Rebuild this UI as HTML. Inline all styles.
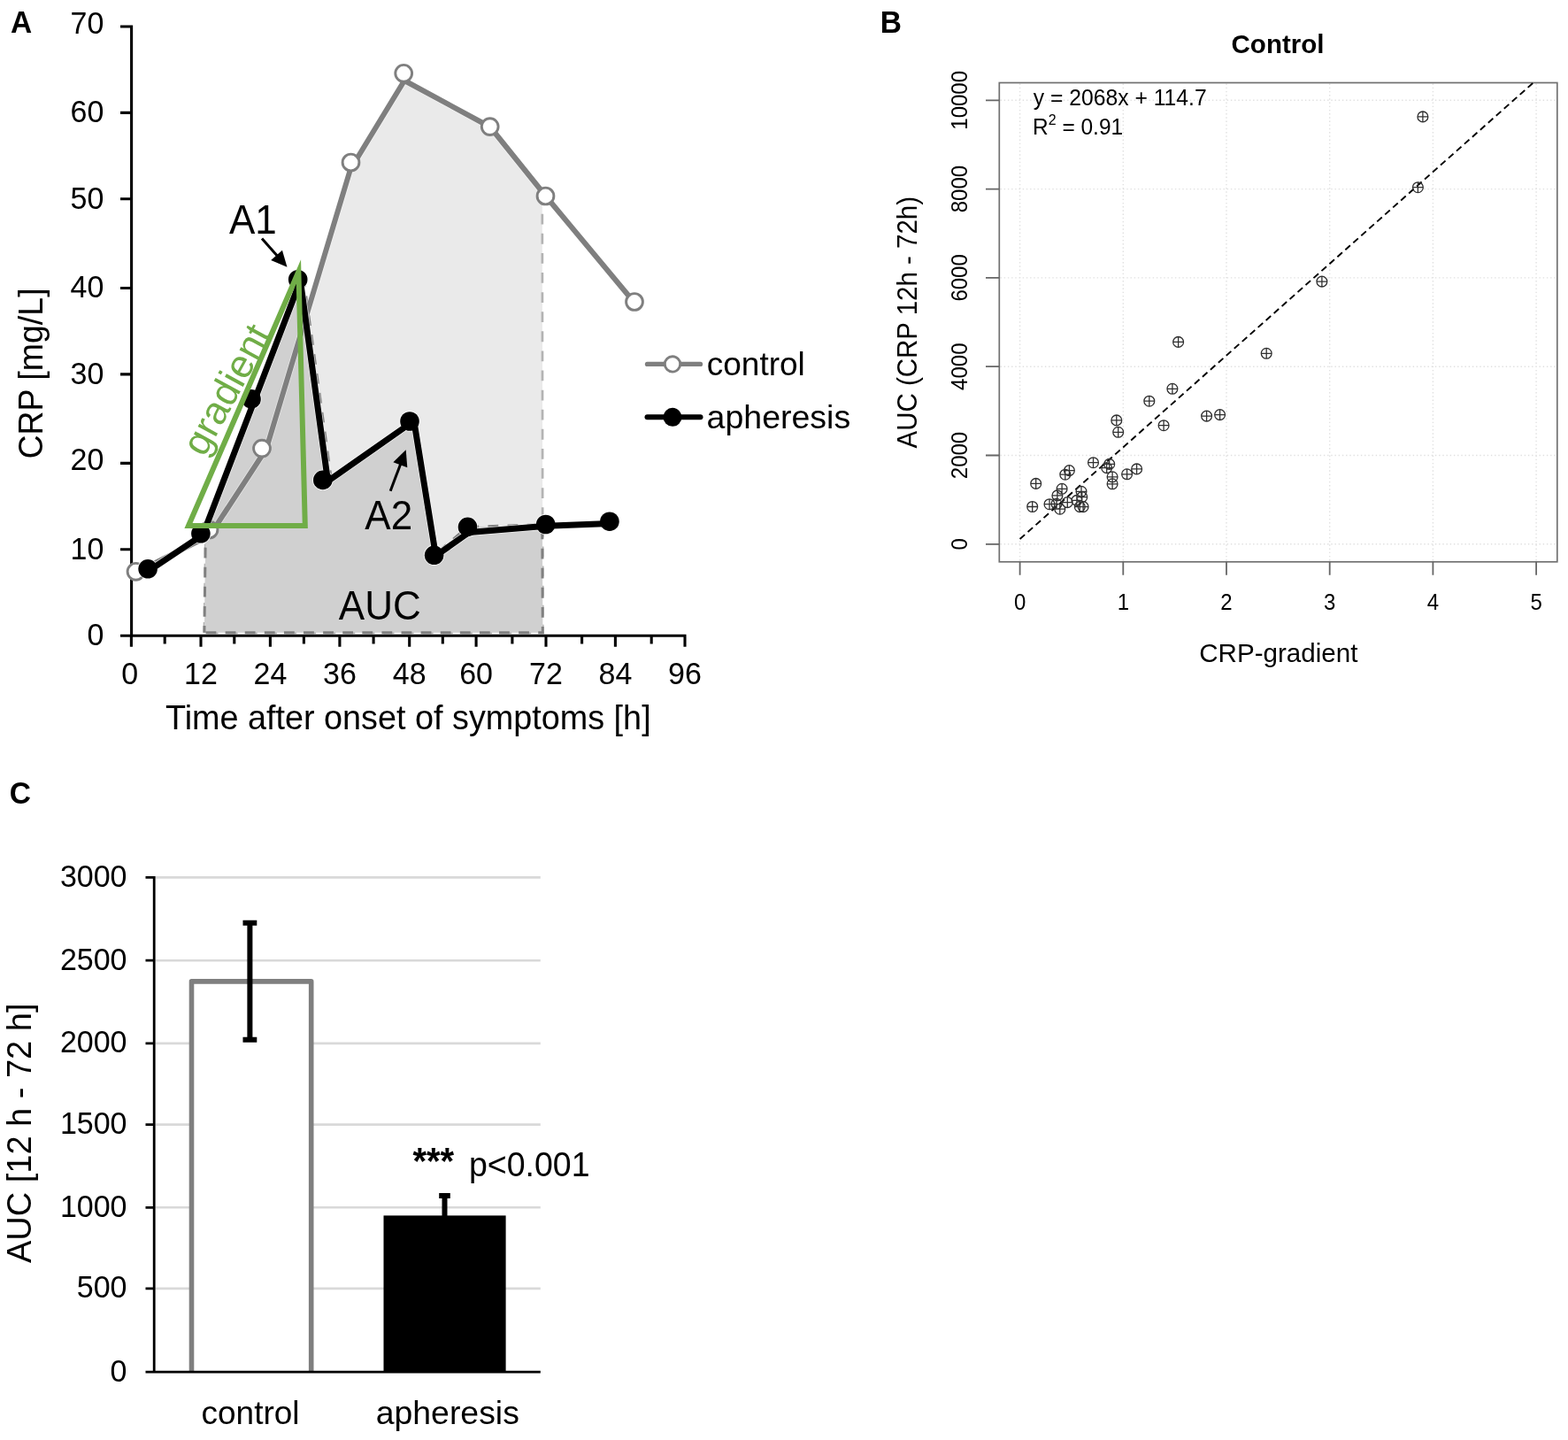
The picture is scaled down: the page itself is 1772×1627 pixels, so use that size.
<!DOCTYPE html>
<html><head><meta charset="utf-8"><title>CRP apheresis figure</title>
<style>
html,body{margin:0;padding:0;background:#fff;}
body{width:1772px;height:1627px;overflow:hidden;}
svg{display:block;}
</style></head><body>
<svg width="1772" height="1627" viewBox="0 0 1772 1627">
<rect width="1772" height="1627" fill="#fff"/>
<g id="panelA">
<polygon points="230.9,714.8 232.4,607.1 237.5,604.5 301,507 395.9,191.5 457,91 554,143.5 612.8,216.65 613.3,714.8" fill="#eaeaea" stroke="#b3b3b3" stroke-width="2.7" stroke-dasharray="11.8,10.3"/>
<polygon points="230.9,714.8 232.4,596.02 339.4,317.2 343.6,318.5 374.6,543.6 467.8,475.5 490.6,627.3 528.5,595.4 612.8,592.63 613.3,714.8" fill="#d0d0d0" stroke="#808080" stroke-width="3" stroke-dasharray="11.8,10.3" stroke-dashoffset="4"/>
<path d="M148.6,28.6 V719.8 M136,718.3 H775.5 M136,718.3 H148.6 M136,620.8 H148.6 M136,523.4 H148.6 M136,422.9 H148.6 M136,325.5 H148.6 M136,224.8 H148.6 M136,127.4 H148.6 M136,30 H148.6 M148.4,718.3 V730.8 M186.2,718.3 V727.5 M227,718.3 V730.8 M264.8,718.3 V727.5 M305.4,718.3 V730.8 M343.4,718.3 V727.5 M383.9,718.3 V730.8 M422.1,718.3 V727.5 M462.7,718.3 V730.8 M500.3,718.3 V727.5 M538.1,718.3 V730.8 M578.9,718.3 V727.5 M617,718.3 V730.8 M657.6,718.3 V727.5 M695.4,718.3 V730.8 M736.2,718.3 V727.5 M774,718.3 V730.8" stroke="#000" stroke-width="3.1" fill="none"/>
<g font-family="'Liberation Sans', Arial, Helvetica, sans-serif">
<text transform="translate(117.3,729.3) scale(1,1.04)" font-size="34" text-anchor="end">0</text>
<text transform="translate(117.3,631.8) scale(1,1.04)" font-size="34" text-anchor="end">10</text>
<text transform="translate(117.3,531.2) scale(1,1.04)" font-size="34" text-anchor="end">20</text>
<text transform="translate(117.3,433.8) scale(1,1.04)" font-size="34" text-anchor="end">30</text>
<text transform="translate(117.3,336.3) scale(1,1.04)" font-size="34" text-anchor="end">40</text>
<text transform="translate(117.3,235.8) scale(1,1.04)" font-size="34" text-anchor="end">50</text>
<text transform="translate(117.3,138.4) scale(1,1.04)" font-size="34" text-anchor="end">60</text>
<text transform="translate(117.3,37.9) scale(1,1.04)" font-size="34" text-anchor="end">70</text>
<text transform="translate(146.8,773.2) scale(1,1.04)" font-size="34" text-anchor="middle">0</text>
<text transform="translate(227,773.2) scale(1,1.04)" font-size="34" text-anchor="middle">12</text>
<text transform="translate(305.4,773.2) scale(1,1.04)" font-size="34" text-anchor="middle">24</text>
<text transform="translate(383.9,773.2) scale(1,1.04)" font-size="34" text-anchor="middle">36</text>
<text transform="translate(462.7,773.2) scale(1,1.04)" font-size="34" text-anchor="middle">48</text>
<text transform="translate(538.1,773.2) scale(1,1.04)" font-size="34" text-anchor="middle">60</text>
<text transform="translate(617,773.2) scale(1,1.04)" font-size="34" text-anchor="middle">72</text>
<text transform="translate(695.4,773.2) scale(1,1.04)" font-size="34" text-anchor="middle">84</text>
<text transform="translate(774,773.2) scale(1,1.04)" font-size="34" text-anchor="middle">96</text>
<text transform="translate(461.3,823.5) scale(1,1.02)" font-size="37.8" text-anchor="middle">Time after onset of symptoms [h]</text>
<text transform="translate(48.2,422) rotate(-90) scale(1,1.04)" font-size="37.5" text-anchor="middle">CRP [mg/L]</text>
<polyline points="154,647 237.5,604.5 301,507 395.9,191.5 457,91 554,143.5 617.5,222.5 717,342" fill="none" stroke="#fff" stroke-opacity="0.45" stroke-width="7.6" stroke-linejoin="round"/>
<polyline points="154,647 237.5,604.5 301,507 395.9,191.5 457,91 554,143.5 617.5,222.5 717,342" fill="none" stroke="#7f7f7f" stroke-width="6" stroke-linejoin="round"/>
<circle cx="153.5" cy="645.8" r="9.4" fill="#fff" stroke="#7f7f7f" stroke-width="2.9"/>
<circle cx="236.5" cy="598.5" r="9.4" fill="#fff" stroke="#7f7f7f" stroke-width="2.9"/>
<circle cx="296" cy="506.6" r="9.4" fill="#fff" stroke="#7f7f7f" stroke-width="2.9"/>
<circle cx="396.5" cy="183.5" r="9.4" fill="#fff" stroke="#7f7f7f" stroke-width="2.9"/>
<circle cx="456.2" cy="82.8" r="9.4" fill="#fff" stroke="#7f7f7f" stroke-width="2.9"/>
<circle cx="553.7" cy="143.1" r="9.4" fill="#fff" stroke="#7f7f7f" stroke-width="2.9"/>
<circle cx="616.5" cy="221.5" r="9.4" fill="#fff" stroke="#7f7f7f" stroke-width="2.9"/>
<circle cx="717" cy="341" r="9.4" fill="#fff" stroke="#7f7f7f" stroke-width="2.9"/>
<polyline points="167.1,645.6 229.3,604.1 339.4,317.2 370.5,543.6 467.8,475.5 492.5,628 530,601.5 617.5,594.2 689,591.6" fill="none" stroke="#fff" stroke-opacity="0.7" stroke-width="8.4" stroke-linejoin="round"/>
<circle cx="167.1" cy="642.8" r="11.7" fill="#fff" fill-opacity="0.8"/>
<circle cx="226.9" cy="602.8" r="11.7" fill="#fff" fill-opacity="0.8"/>
<circle cx="284" cy="450.9" r="11.7" fill="#fff" fill-opacity="0.8"/>
<circle cx="336.7" cy="315.7" r="11.7" fill="#fff" fill-opacity="0.8"/>
<circle cx="364.8" cy="542.4" r="11.7" fill="#fff" fill-opacity="0.8"/>
<circle cx="463" cy="476" r="11.7" fill="#fff" fill-opacity="0.8"/>
<circle cx="490.6" cy="627.3" r="11.7" fill="#fff" fill-opacity="0.8"/>
<circle cx="528.5" cy="595.4" r="11.7" fill="#fff" fill-opacity="0.8"/>
<circle cx="616.7" cy="592.5" r="11.7" fill="#fff" fill-opacity="0.8"/>
<circle cx="688.9" cy="589.2" r="11.7" fill="#fff" fill-opacity="0.8"/>
<polyline points="167.1,645.6 229.3,604.1 339.4,317.2 370.5,543.6 467.8,475.5 492.5,628 530,601.5 617.5,594.2 689,591.6" fill="none" stroke="#000" stroke-width="7" stroke-linejoin="round"/>
<circle cx="167.1" cy="642.8" r="10.8" fill="#000"/>
<circle cx="226.9" cy="602.8" r="10.8" fill="#000"/>
<circle cx="284" cy="450.9" r="10.8" fill="#000"/>
<circle cx="336.7" cy="315.7" r="10.8" fill="#000"/>
<circle cx="364.8" cy="542.4" r="10.8" fill="#000"/>
<circle cx="463" cy="476" r="10.8" fill="#000"/>
<circle cx="490.6" cy="627.3" r="10.8" fill="#000"/>
<circle cx="528.5" cy="595.4" r="10.8" fill="#000"/>
<circle cx="616.7" cy="592.5" r="10.8" fill="#000"/>
<circle cx="688.9" cy="589.2" r="10.8" fill="#000"/>
<path d="M213,594 L337.4,307 L344.8,594 Z" fill="none" stroke="#70ad47" stroke-width="6" stroke-linejoin="miter" stroke-miterlimit="10"/>
<text transform="translate(231,517.5) rotate(-61.5)" font-size="44.3" fill="#70ad47">gradient</text>
<text transform="translate(259,263.9) scale(1,1.04)" font-size="44">A1</text>
<text transform="translate(412.3,598) scale(1,1.04)" font-size="44">A2</text>
<text transform="translate(382.8,700) scale(1,1.04)" font-size="44">AUC</text>
<path d="M296,269.5 L313.91,289.8" stroke="#000" stroke-width="3" fill="none"/><path d="M324.5,301.8 L306.22,293.93 L318.96,282.68 Z" fill="#000"/>
<path d="M441.2,554.7 L453.05,523.27" stroke="#000" stroke-width="3" fill="none"/><path d="M458.7,508.3 L460.3,528.14 L444.39,522.14 Z" fill="#000"/>
<path d="M731.5,411.4 H791.5" stroke="#7f7f7f" stroke-width="5.3" stroke-linecap="round"/>
<circle cx="760" cy="411.4" r="8.7" fill="#fff" stroke="#7f7f7f" stroke-width="2.9"/>
<path d="M731.5,471.3 H791.5" stroke="#000" stroke-width="6" stroke-linecap="round"/>
<circle cx="760" cy="471.3" r="10.5" fill="#000"/>
<text transform="translate(798.8,424.1) scale(1,0.99)" font-size="37">control</text>
<text transform="translate(798.6,483.5) scale(1,0.99)" font-size="37.5">apheresis</text>
<text transform="translate(12.1,36.6) scale(1,1.04)" font-size="33.5" font-weight="bold">A</text>
</g>
</g>
<g id="panelB" font-family="'Liberation Sans', Arial, Helvetica, sans-serif">
<text transform="translate(994.7,37) scale(1,1.04)" font-size="33.5" font-weight="bold">B</text>
<text transform="translate(1444,60.2)" font-size="29.5" text-anchor="middle" font-weight="bold">Control</text>
<path d="M1152.6,94.5 V634 M1269.3,94.5 V634 M1386,94.5 V634 M1502.7,94.5 V634 M1619.4,94.5 V634 M1736.1,94.5 V634 M1130.5,614.8 H1759 M1130.5,514.5 H1759 M1130.5,414.2 H1759 M1130.5,313.9 H1759 M1130.5,213.6 H1759 M1130.5,113.3 H1759" stroke="#e0e0e0" stroke-width="1.4" stroke-dasharray="1.4,2.8" fill="none"/>
<rect x="1129.3" y="93.5" width="630.5" height="541.3" fill="none" stroke="#707070" stroke-width="1.7"/>
<path d="M1114,614.8 H1129.3 M1114,514.5 H1129.3 M1114,414.2 H1129.3 M1114,313.9 H1129.3 M1114,213.6 H1129.3 M1114,113.3 H1129.3 M1152.6,634.8 V649.8 M1269.3,634.8 V649.8 M1386,634.8 V649.8 M1502.7,634.8 V649.8 M1619.4,634.8 V649.8 M1736.1,634.8 V649.8" stroke="#666" stroke-width="1.8" fill="none"/>
<text transform="translate(1093.4,614.8) rotate(-90) scale(1,1.04)" font-size="24" text-anchor="middle">0</text>
<text transform="translate(1093.4,514.5) rotate(-90) scale(1,1.04)" font-size="24" text-anchor="middle">2000</text>
<text transform="translate(1093.4,414.2) rotate(-90) scale(1,1.04)" font-size="24" text-anchor="middle">4000</text>
<text transform="translate(1093.4,313.9) rotate(-90) scale(1,1.04)" font-size="24" text-anchor="middle">6000</text>
<text transform="translate(1093.4,213.6) rotate(-90) scale(1,1.04)" font-size="24" text-anchor="middle">8000</text>
<text transform="translate(1093.4,113.3) rotate(-90) scale(1,1.04)" font-size="24" text-anchor="middle">10000</text>
<text transform="translate(1152.6,689.2) scale(1,1.04)" font-size="24" text-anchor="middle">0</text>
<text transform="translate(1269.3,689.2) scale(1,1.04)" font-size="24" text-anchor="middle">1</text>
<text transform="translate(1386,689.2) scale(1,1.04)" font-size="24" text-anchor="middle">2</text>
<text transform="translate(1502.7,689.2) scale(1,1.04)" font-size="24" text-anchor="middle">3</text>
<text transform="translate(1619.4,689.2) scale(1,1.04)" font-size="24" text-anchor="middle">4</text>
<text transform="translate(1736.1,689.2) scale(1,1.04)" font-size="24" text-anchor="middle">5</text>
<text transform="translate(1167.8,119.2) scale(1,1.04)" font-size="24.7">y = 2068x + 114.7</text>
<text transform="translate(1167,151.5) scale(1,1.04)" font-size="24.5">R<tspan dy="-10" font-size="16">2</tspan><tspan dy="10"> = 0.91</tspan></text>
<text transform="translate(1444.8,748) scale(1,1.02)" font-size="29.6" text-anchor="middle">CRP-gradient</text>
<text transform="translate(1035.6,364.2) rotate(-90) scale(1,1.04)" font-size="29.5" text-anchor="middle">AUC (CRP 12h - 72h)</text>
<path d="M1152.6,609.05 L1732.72,93.5" stroke="#000" stroke-width="1.9" stroke-dasharray="7.4,4.6" fill="none"/>
<path d="M1160.8,572.5 a5.9,5.9 0 1,0 11.8,0 a5.9,5.9 0 1,0 -11.8,0 Z M1160.8,572.5 H1172.6 M1166.7,566.6 V578.4 M1164.8,546.4 a5.9,5.9 0 1,0 11.8,0 a5.9,5.9 0 1,0 -11.8,0 Z M1164.8,546.4 H1176.6 M1170.7,540.5 V552.3 M1180.1,569.7 a5.9,5.9 0 1,0 11.8,0 a5.9,5.9 0 1,0 -11.8,0 Z M1180.1,569.7 H1191.9 M1186,563.8 V575.6 M1189,559.9 a5.9,5.9 0 1,0 11.8,0 a5.9,5.9 0 1,0 -11.8,0 Z M1189,559.9 H1200.8 M1194.9,554 V565.8 M1194.2,552.3 a5.9,5.9 0 1,0 11.8,0 a5.9,5.9 0 1,0 -11.8,0 Z M1194.2,552.3 H1206 M1200.1,546.4 V558.2 M1188.1,569.3 a5.9,5.9 0 1,0 11.8,0 a5.9,5.9 0 1,0 -11.8,0 Z M1188.1,569.3 H1199.9 M1194,563.4 V575.2 M1191.9,575.2 a5.9,5.9 0 1,0 11.8,0 a5.9,5.9 0 1,0 -11.8,0 Z M1191.9,575.2 H1203.7 M1197.8,569.3 V581.1 M1200.4,567.6 a5.9,5.9 0 1,0 11.8,0 a5.9,5.9 0 1,0 -11.8,0 Z M1200.4,567.6 H1212.2 M1206.3,561.7 V573.5 M1197.9,536.2 a5.9,5.9 0 1,0 11.8,0 a5.9,5.9 0 1,0 -11.8,0 Z M1197.9,536.2 H1209.7 M1203.8,530.3 V542.1 M1202.5,531.6 a5.9,5.9 0 1,0 11.8,0 a5.9,5.9 0 1,0 -11.8,0 Z M1202.5,531.6 H1214.3 M1208.4,525.7 V537.5 M1216.1,555.3 a5.9,5.9 0 1,0 11.8,0 a5.9,5.9 0 1,0 -11.8,0 Z M1216.1,555.3 H1227.9 M1222,549.4 V561.2 M1216.9,561.6 a5.9,5.9 0 1,0 11.8,0 a5.9,5.9 0 1,0 -11.8,0 Z M1216.9,561.6 H1228.7 M1222.8,555.7 V567.5 M1211,565.4 a5.9,5.9 0 1,0 11.8,0 a5.9,5.9 0 1,0 -11.8,0 Z M1211,565.4 H1222.8 M1216.9,559.5 V571.3 M1214.4,572.6 a5.9,5.9 0 1,0 11.8,0 a5.9,5.9 0 1,0 -11.8,0 Z M1214.4,572.6 H1226.2 M1220.3,566.7 V578.5 M1218.2,572.6 a5.9,5.9 0 1,0 11.8,0 a5.9,5.9 0 1,0 -11.8,0 Z M1218.2,572.6 H1230 M1224.1,566.7 V578.5 M1229.6,522.7 a5.9,5.9 0 1,0 11.8,0 a5.9,5.9 0 1,0 -11.8,0 Z M1229.6,522.7 H1241.4 M1235.5,516.8 V528.6 M1247.8,524.4 a5.9,5.9 0 1,0 11.8,0 a5.9,5.9 0 1,0 -11.8,0 Z M1247.8,524.4 H1259.6 M1253.7,518.5 V530.3 M1244.8,528.6 a5.9,5.9 0 1,0 11.8,0 a5.9,5.9 0 1,0 -11.8,0 Z M1244.8,528.6 H1256.6 M1250.7,522.7 V534.5 M1251.2,538.8 a5.9,5.9 0 1,0 11.8,0 a5.9,5.9 0 1,0 -11.8,0 Z M1251.2,538.8 H1263 M1257.1,532.9 V544.7 M1251.2,546.8 a5.9,5.9 0 1,0 11.8,0 a5.9,5.9 0 1,0 -11.8,0 Z M1251.2,546.8 H1263 M1257.1,540.9 V552.7 M1267.7,535.8 a5.9,5.9 0 1,0 11.8,0 a5.9,5.9 0 1,0 -11.8,0 Z M1267.7,535.8 H1279.5 M1273.6,529.9 V541.7 M1278.7,529.9 a5.9,5.9 0 1,0 11.8,0 a5.9,5.9 0 1,0 -11.8,0 Z M1278.7,529.9 H1290.5 M1284.6,524 V535.8 M1255.9,474.9 a5.9,5.9 0 1,0 11.8,0 a5.9,5.9 0 1,0 -11.8,0 Z M1255.9,474.9 H1267.7 M1261.8,469 V480.8 M1257.8,488.3 a5.9,5.9 0 1,0 11.8,0 a5.9,5.9 0 1,0 -11.8,0 Z M1257.8,488.3 H1269.6 M1263.7,482.4 V494.2 M1292.9,453.2 a5.9,5.9 0 1,0 11.8,0 a5.9,5.9 0 1,0 -11.8,0 Z M1292.9,453.2 H1304.7 M1298.8,447.3 V459.1 M1309.2,480.7 a5.9,5.9 0 1,0 11.8,0 a5.9,5.9 0 1,0 -11.8,0 Z M1309.2,480.7 H1321 M1315.1,474.8 V486.6 M1319,439.3 a5.9,5.9 0 1,0 11.8,0 a5.9,5.9 0 1,0 -11.8,0 Z M1319,439.3 H1330.8 M1324.9,433.4 V445.2 M1325.7,386.4 a5.9,5.9 0 1,0 11.8,0 a5.9,5.9 0 1,0 -11.8,0 Z M1325.7,386.4 H1337.5 M1331.6,380.5 V392.3 M1357.7,470.1 a5.9,5.9 0 1,0 11.8,0 a5.9,5.9 0 1,0 -11.8,0 Z M1357.7,470.1 H1369.5 M1363.6,464.2 V476 M1372.7,468.6 a5.9,5.9 0 1,0 11.8,0 a5.9,5.9 0 1,0 -11.8,0 Z M1372.7,468.6 H1384.5 M1378.6,462.7 V474.5 M1425.3,399.3 a5.9,5.9 0 1,0 11.8,0 a5.9,5.9 0 1,0 -11.8,0 Z M1425.3,399.3 H1437.1 M1431.2,393.4 V405.2 M1488,318.1 a5.9,5.9 0 1,0 11.8,0 a5.9,5.9 0 1,0 -11.8,0 Z M1488,318.1 H1499.8 M1493.9,312.2 V324 M1596.5,211.7 a5.9,5.9 0 1,0 11.8,0 a5.9,5.9 0 1,0 -11.8,0 Z M1596.5,211.7 H1608.3 M1602.4,205.8 V217.6 M1602,131.9 a5.9,5.9 0 1,0 11.8,0 a5.9,5.9 0 1,0 -11.8,0 Z M1602,131.9 H1613.8 M1607.9,126 V137.8" stroke="#303030" stroke-width="1.3" fill="none"/>
</g>
<g id="panelC" font-family="'Liberation Sans', Arial, Helvetica, sans-serif">
<text transform="translate(10.8,908.2) scale(1,1.07)" font-size="33.5" font-weight="bold">C</text>
<path d="M175.5,1455.9 H610.8 M175.5,1364.3 H610.8 M175.5,1270.6 H610.8 M175.5,1178.9 H610.8 M175.5,1085.2 H610.8 M175.5,991.4 H610.8" stroke="#d9d9d9" stroke-width="2.6" fill="none"/>
<path d="M216.5,1550.2 V1108.9 H351.7 V1550.2" fill="#fff" stroke="#7f7f7f" stroke-width="5.6" stroke-linejoin="round"/>
<rect x="433.5" y="1373.4" width="138.1" height="176.8" fill="#000"/>
<path d="M282.4,1042.7 V1174.8 M274.5,1042.7 H290.3 M274.5,1174.8 H290.3" stroke="#000" stroke-width="6" fill="none"/>
<path d="M502.5,1351 V1374 M496.2,1351 H508.8" stroke="#000" stroke-width="6" fill="none"/>
<path d="M174.2,990 V1550.2 M164.8,1550.2 H610.8 M164.5,1550.2 H174 M164.5,1455.9 H174 M164.5,1364.3 H174 M164.5,1270.6 H174 M164.5,1178.9 H174 M164.5,1085.2 H174 M164.5,991.4 H174" stroke="#000" stroke-width="2.8" fill="none"/>
<text transform="translate(143.5,1560.5) scale(1,1.04)" font-size="34" text-anchor="end">0</text>
<text transform="translate(143.5,1466.2) scale(1,1.04)" font-size="34" text-anchor="end">500</text>
<text transform="translate(143.5,1374.6) scale(1,1.04)" font-size="34" text-anchor="end">1000</text>
<text transform="translate(143.5,1280.9) scale(1,1.04)" font-size="34" text-anchor="end">1500</text>
<text transform="translate(143.5,1189.2) scale(1,1.04)" font-size="34" text-anchor="end">2000</text>
<text transform="translate(143.5,1095.5) scale(1,1.04)" font-size="34" text-anchor="end">2500</text>
<text transform="translate(143.5,1001.7) scale(1,1.04)" font-size="34" text-anchor="end">3000</text>
<text transform="translate(283,1608.9) scale(1,0.99)" font-size="37" text-anchor="middle">control</text>
<text transform="translate(505.8,1608.9) scale(1,0.99)" font-size="37.4" text-anchor="middle">apheresis</text>
<text transform="translate(34.6,1280.3) rotate(-90) scale(1,1.04)" font-size="38" text-anchor="middle">AUC [12 h - 72 h]</text>
<text transform="translate(466.5,1325.9) scale(1,1.04)" font-size="40" font-weight="bold">***</text>
<text transform="translate(530,1329.1) scale(1,1.04)" font-size="37.5">p&lt;0.001</text>
</g>
</svg>
</body></html>
